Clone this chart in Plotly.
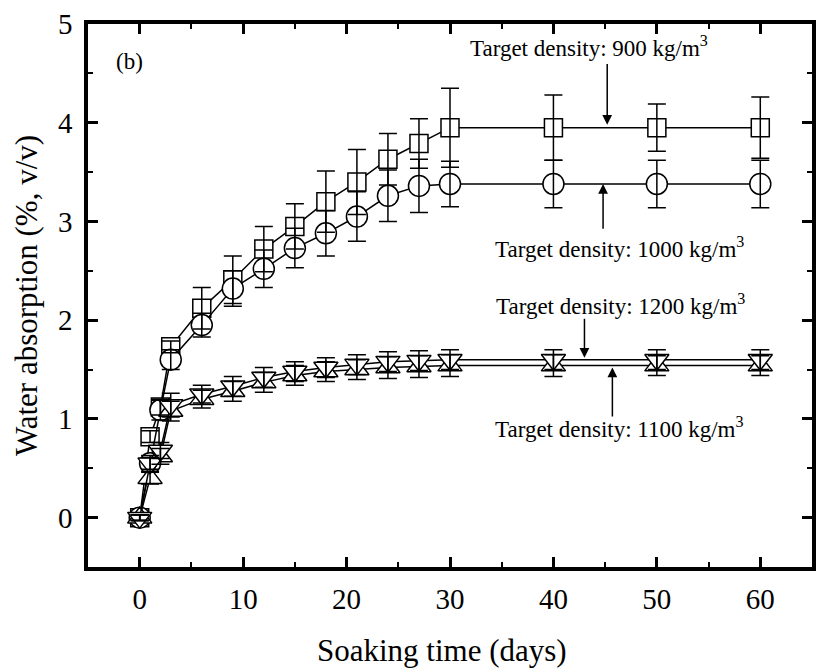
import plotly.graph_objects as go

days = [0, 1, 2, 3, 6, 9, 12, 15, 18, 21, 24, 27, 30, 40, 50, 60]
wa_900 = [0, 0.82, 1.12, 1.73, 2.12, 2.41, 2.72, 2.95, 3.20, 3.40, 3.63, 3.79, 3.95, 3.95, 3.95, 3.95]
err_900 = [0.03, 0.06, 0.08, 0.06, 0.21, 0.24, 0.23, 0.23, 0.31, 0.33, 0.26, 0.25, 0.40, 0.33, 0.24, 0.31]
wa_1000 = [0, 0.55, 1.09, 1.60, 1.95, 2.32, 2.52, 2.73, 2.88, 3.05, 3.26, 3.36, 3.38, 3.38, 3.38, 3.38]
err_1000 = [0.03, 0.08, 0.10, 0.10, 0.12, 0.18, 0.19, 0.20, 0.23, 0.25, 0.26, 0.27, 0.23, 0.24, 0.24, 0.24]
wa_1100 = [0, 0.40, 0.62, 1.08, 1.20, 1.28, 1.37, 1.44, 1.48, 1.50, 1.52, 1.53, 1.54, 1.54, 1.54, 1.54]
err_1100 = [0.03, 0.06, 0.08, 0.10, 0.09, 0.10, 0.10, 0.10, 0.10, 0.10, 0.11, 0.11, 0.11, 0.11, 0.10, 0.10]
wa_1200 = [0, 0.55, 0.68, 1.14, 1.25, 1.33, 1.42, 1.48, 1.52, 1.55, 1.58, 1.59, 1.60, 1.60, 1.60, 1.60]
err_1200 = [0.03, 0.06, 0.08, 0.12, 0.09, 0.10, 0.10, 0.10, 0.10, 0.10, 0.10, 0.10, 0.10, 0.10, 0.10, 0.10]

series = [
    ("900", wa_900, err_900, "square", 18),
    ("1000", wa_1000, err_1000, "circle", 21),
    ("1100", wa_1100, err_1100, "triangle-up", 21),
    ("1200", wa_1200, err_1200, "triangle-down", 21),
]

label_names = ["900", "1000", "1200", "1100"]
label_x = [43.4, 46.4, 46.5, 46.4]
label_y = [4.77, 2.74, 2.16, 0.91]
arrow_x = [45.2, 44.8, 43.0, 45.7]
arrow_head_y = [3.98, 3.38, 1.62, 1.52]
arrow_tail_y = [4.61, 2.91, 2.03, 1.01]

FONT = "Liberation Serif"
fig = go.Figure()

for name, vals, errs, sym, sz in series:
    fig.add_trace(go.Scatter(
        x=days, y=vals, mode="lines+markers", name=name,
        line=dict(color="black", width=1.5),
        marker=dict(symbol=sym, size=sz, color="white", line=dict(color="black", width=1.5)),
        showlegend=False,
    ))
for name, vals, errs, sym, sz in series:
    fig.add_trace(go.Scatter(
        x=days, y=vals, mode="markers", name=name + " err",
        marker=dict(size=1, color="rgba(0,0,0,0)"),
        error_y=dict(type="data", array=errs, visible=True, color="black", thickness=1.5, width=9),
        showlegend=False,
    ))

for nm, tx, ty, axx, hy, tyl in zip(label_names, label_x, label_y, arrow_x, arrow_head_y, arrow_tail_y):
    fig.add_annotation(
        x=tx, y=ty, xref="x", yref="y", showarrow=False,
        text=f"Target density: {nm} kg/m<sup>3</sup>",
        font=dict(family=FONT, size=23, color="black"),
    )
    fig.add_annotation(
        x=axx, y=hy, ax=axx, ay=tyl, xref="x", yref="y", axref="x", ayref="y",
        text="", showarrow=True, arrowhead=2, arrowsize=1.3, arrowwidth=1.5, arrowcolor="black",
    )

fig.add_annotation(x=-0.97, y=4.62, xref="x", yref="y", showarrow=False, text="(b)",
                   font=dict(family=FONT, size=23, color="black"))

# x-axis title (slightly left of the plot centre, as in the reference)
fig.add_annotation(x=0.489, y=-0.153, xref="paper", yref="paper", showarrow=False,
                   xanchor="center", yanchor="middle", text="Soaking time (days)",
                   font=dict(family=FONT, size=31, color="black"))

axis_common = dict(
    showline=True, linecolor="black", linewidth=3.5, mirror="ticks",
    ticks="inside", ticklen=10, tickwidth=3, tickcolor="black",
    showgrid=False, zeroline=False,
    tickfont=dict(family=FONT, size=29, color="black"),
)

fig.update_xaxes(
    range=[-5, 65], tickvals=[0, 10, 20, 30, 40, 50, 60],
    minor=dict(dtick=5, tick0=0, ticks="inside", ticklen=5, tickwidth=2, tickcolor="black"),
    ticklabelstandoff=3,
    **axis_common,
)
fig.update_yaxes(
    range=[-0.5, 5], tickvals=[0, 1, 2, 3, 4, 5],
    minor=dict(dtick=0.5, tick0=0, ticks="inside", ticklen=5, tickwidth=2, tickcolor="black"),
    title=dict(text="Water absorption (%, v/v)", font=dict(family=FONT, size=31, color="black"), standoff=12),
    ticklabelstandoff=6,
    **axis_common,
)

fig.update_layout(
    width=821, height=670,
    margin=dict(l=88, r=5, t=24, b=103),
    paper_bgcolor="white", plot_bgcolor="white",
)

fig.write_html("out.html")
